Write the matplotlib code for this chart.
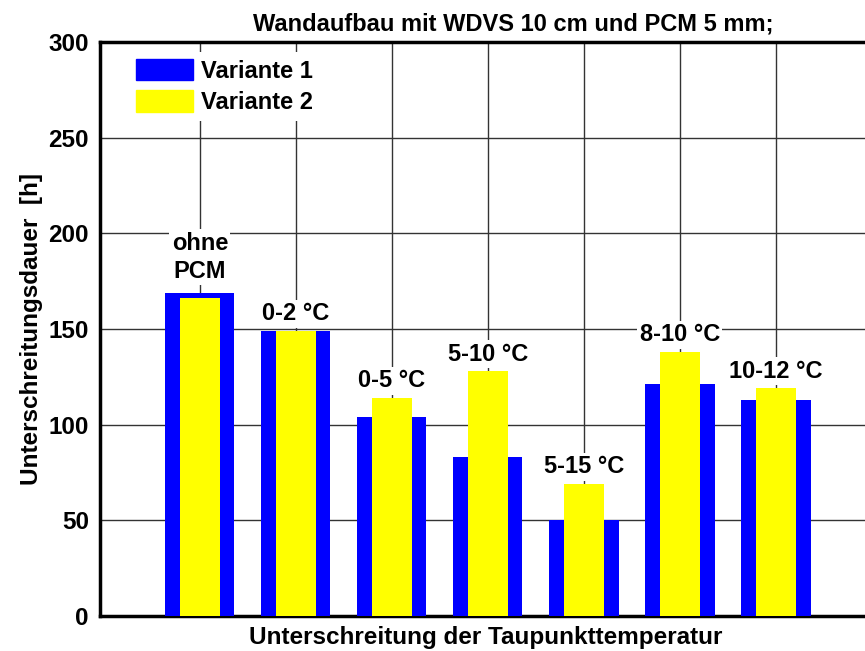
import matplotlib.pyplot as plt
from matplotlib.patches import Patch

plt.rcParams['font.family'] = ['Liberation Sans', 'DejaVu Sans']
plt.rcParams['font.weight'] = 'bold'

# Daten
labels = ['ohne\nPCM', '0-2 °C', '0-5 °C', '5-10 °C', '5-15 °C', '8-10 °C', '10-12 °C']
variante1 = [169, 149, 104, 83, 50, 121, 113]
variante2 = [166, 149, 114, 128, 69, 138, 119]
yticks = [0, 50, 100, 150, 200, 250, 300]

fig = plt.figure(figsize=(8.65, 6.51), dpi=100)
# Achse reicht rechts etwas über den Bildrand hinaus
ax = fig.add_axes([100 / 865, 35 / 651, 772 / 865, 574 / 651])

x = list(range(len(labels)))
ax.bar(x, variante1, width=0.72, color='#0000ff', zorder=3)
ax.bar(x, variante2, width=0.42, color='#ffff00', zorder=4)

# Beschriftung über den Balken (zweizeilige etwas höher)
for xi, v1, v2, lab in zip(x, variante1, variante2, labels):
    off = 7 if '\n' in lab else 4
    ax.annotate(lab, (xi, max(v1, v2)), xytext=(0, off), textcoords='offset points',
                ha='center', va='bottom', fontsize=17, fontweight='bold',
                linespacing=1.3, zorder=5,
                bbox=dict(boxstyle='square,pad=0.1', fc='white', ec='none'))

ax.set_xlim(-1.04, 7.0)
ax.set_ylim(0, 300)
ax.set_yticks(yticks)
ax.set_xticks(range(8))
ax.set_xticklabels([])
ax.tick_params(axis='both', length=0, labelsize=17.5, pad=8)
for t in ax.get_yticklabels():
    t.set_fontweight('bold')
ax.grid(True, color='#333333', linewidth=1, zorder=0)
ax.set_axisbelow(True)

for s in ['left', 'bottom', 'top']:
    ax.spines[s].set_linewidth(2.5)
ax.spines['right'].set_visible(False)

ax.set_title('Wandaufbau mit WDVS 10 cm und PCM 5 mm;', fontsize=17, fontweight='bold',
             pad=8, x=0.535)
ax.set_xlabel('Unterschreitung der Taupunkttemperatur', fontsize=17.5, fontweight='bold')
ax.xaxis.set_label_coords(0.5, -0.018)
ax.set_ylabel('Unterschreitungsdauer  [h]', fontsize=17.5, fontweight='bold', labelpad=4)

handles = [Patch(color='#0000ff'), Patch(color='#ffff00')]
leg = ax.legend(handles, ['Variante 1', 'Variante 2'], loc='upper left',
                bbox_to_anchor=(0.022, 1.004), frameon=True, fancybox=False,
                edgecolor='none', facecolor='white', framealpha=1,
                prop={'size': 17, 'weight': 'bold'},
                handlelength=2.4, handleheight=1.05, handletextpad=0.35,
                labelspacing=0.3, borderpad=0.3)
leg.set_zorder(6)

fig.savefig('out.png', dpi=100)
